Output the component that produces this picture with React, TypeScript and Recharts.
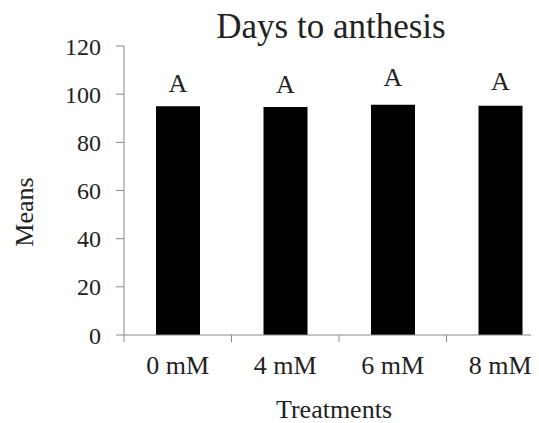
import React from "react";
import { BarChart, Bar, XAxis, YAxis, LabelList } from "recharts";

const categories = ["0 mM", "4 mM", "6 mM", "8 mM"];
const means = [95.0, 94.7, 95.6, 95.2];
const ses = [2.6, 2.5, 4.3, 3.3];
const letters = ["A", "A", "A", "A"];
const yTicks = [0, 20, 40, 60, 80, 100, 120];

const data = categories.map((c, i) => ({ name: c, mean: means[i] }));

const FONT = "Liberation Serif";
const TEXT = "#222";
const AXIS = "#888";
const X_TICK_SIZE = 8;
const X_TICK_MARGIN = 13;
const BOUNDARY_TICK = 7;

const renderLetter = (props: any) => {
  const { x, y, width, height, index } = props;
  const pxPerUnit = height / means[index];
  const ly = y - ses[index] * pxPerUnit - 8;
  return (
    <text
      x={x + width / 2}
      y={ly}
      textAnchor="middle"
      fontFamily={FONT}
      fontSize={26}
      fill={TEXT}
    >
      {letters[index]}
    </text>
  );
};

const XTick = (props: any) => {
  const { x, y, payload, width, visibleTicksCount } = props;
  const band = width / (visibleTicksCount || categories.length);
  const axisY = y - X_TICK_SIZE - X_TICK_MARGIN;
  const bx = x - band / 2;
  return (
    <g>
      <line x1={bx} x2={bx} y1={axisY} y2={axisY + BOUNDARY_TICK} stroke={AXIS} />
      <text x={x} y={y} dy="0.71em" textAnchor="middle" fontFamily={FONT} fontSize={26} fill={TEXT}>
        {payload.value}
      </text>
    </g>
  );
};

const YTick = (props: any) => {
  const { x, y, payload } = props;
  return (
    <text x={x} y={y} dy="0.355em" textAnchor="end" fontFamily={FONT} fontSize={24} fill={TEXT}>
      {payload.value}
    </text>
  );
};

export default function App() {
  return (
    <div
      style={{
        width: 531,
        height: 415,
        overflow: "hidden",
        position: "relative",
        fontFamily: FONT,
      }}
    >
      <BarChart
        width={546}
        height={415}
        data={data}
        margin={{ top: 38, right: 0, bottom: 0, left: 0 }}
      >
        <XAxis
          dataKey="name"
          height={88}
          axisLine={{ stroke: AXIS }}
          tickLine={false}
          tickSize={X_TICK_SIZE}
          tickMargin={X_TICK_MARGIN}
          tick={<XTick />}
          interval={0}
        />
        <YAxis
          width={116}
          domain={[0, 120]}
          ticks={yTicks}
          axisLine={{ stroke: AXIS }}
          tickLine={{ stroke: AXIS }}
          tickSize={8}
          tickMargin={15}
          tick={<YTick />}
          interval={0}
        />
        <Bar dataKey="mean" fill="#000" barSize={44} isAnimationActive={false}>
          <LabelList dataKey="mean" content={renderLetter} />
        </Bar>
        <text x={323} y={29.5} textAnchor="middle" fontFamily={FONT} fontSize={35} fill={TEXT}>
          Days to anthesis
        </text>
        <text x={326} y={409.5} textAnchor="middle" fontFamily={FONT} fontSize={26} fill={TEXT}>
          Treatments
        </text>
        <text
          x={25}
          y={204}
          textAnchor="middle"
          transform="rotate(-90, 25, 204)"
          fontFamily={FONT}
          fontSize={26}
          fill={TEXT}
        >
          Means
        </text>
      </BarChart>
    </div>
  );
}
